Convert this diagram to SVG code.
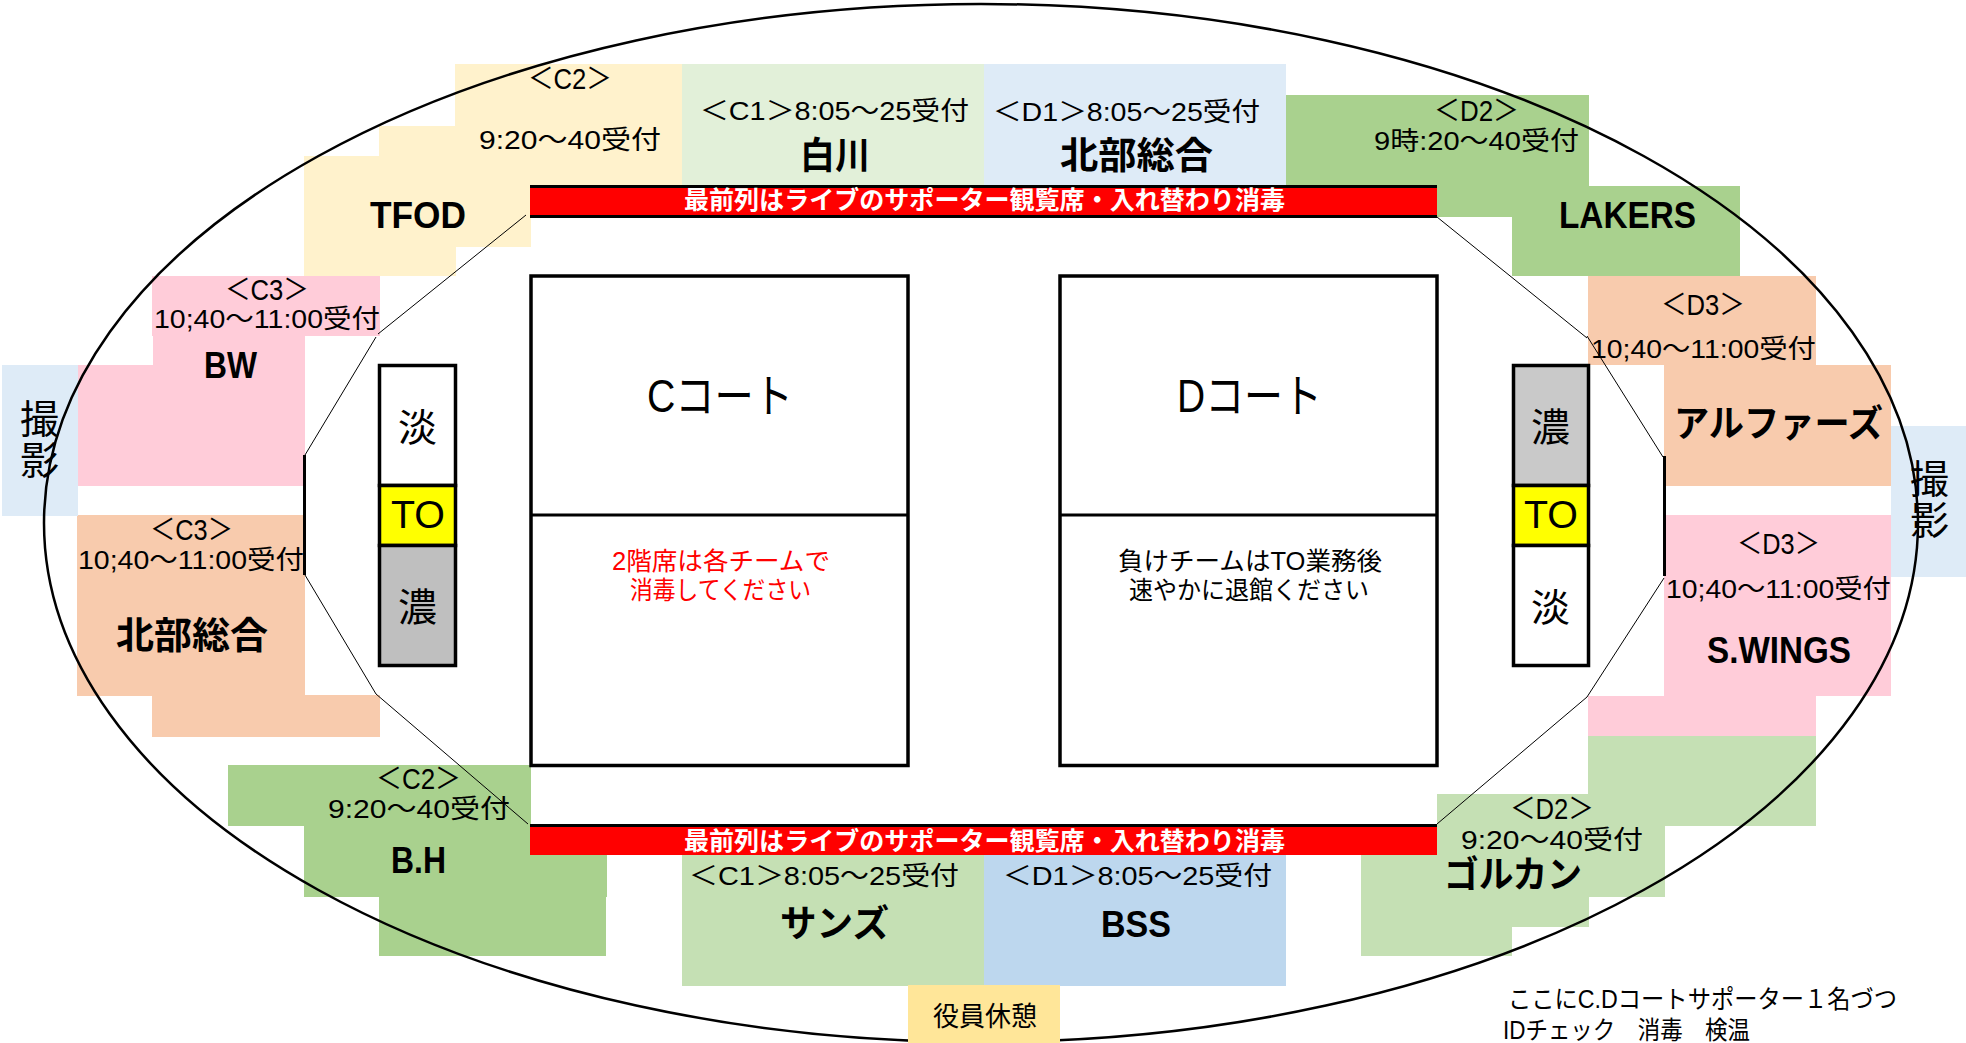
<svg xmlns="http://www.w3.org/2000/svg" width="1966" height="1043" viewBox="0 0 1966 1043">
<style>
text{font-family:"Liberation Sans","Noto Sans CJK JP",sans-serif;fill:#000;font-size:26px}
.a{font-size:29px}
.n{font-size:25px}
.b{font-weight:700;font-size:36px}
.j{font-weight:700;font-size:37px}
.w{font-weight:700;font-size:25px;fill:#fff}
.r{fill:#f00;font-size:25px}
.k{font-size:39px}
.c{font-size:46px}
.o{fill:#fff;stroke:#000;stroke-width:3.5}
.t{fill:none;stroke:#000;stroke-width:1}
.v{fill:none;stroke:#000;stroke-width:3}
.y{fill:#FFF2CC}.p{fill:#FFCCD9}.s{fill:#F8CBAD}.g{fill:#A9D18E}.l{fill:#C5E0B4}.q{fill:#E2F0D9}.u{fill:#DEEBF7}.m{fill:#BDD7EE}
</style>
<rect width="1966" height="1043" fill="#fff"/>
<g id="zone-tfod">
<polygon class="y" points="455,64 682,64 682,185 531,185 531,247 456,247 456,276 304,276 304,156 379,156 379,126 455,126"/>
<text class="a" x="528" y="89" textLength="84" lengthAdjust="spacingAndGlyphs">＜C2＞</text>
<text x="479" y="149" textLength="182" lengthAdjust="spacingAndGlyphs">9:20～40受付</text>
<text class="b" x="370" y="228" textLength="96" lengthAdjust="spacingAndGlyphs">TFOD</text>
</g>
<g id="zone-shirakawa">
<rect class="q" x="682" y="64" width="302" height="121"/>
<text x="700" y="120" textLength="269" lengthAdjust="spacingAndGlyphs">＜C1＞8:05～25受付</text>
<text class="j" x="800" y="169" textLength="70" lengthAdjust="spacingAndGlyphs">白川</text>
</g>
<g id="zone-hokubu-d1">
<rect class="u" x="984" y="64" width="302" height="121"/>
<text x="993" y="121" textLength="267" lengthAdjust="spacingAndGlyphs">＜D1＞8:05～25受付</text>
<text class="j" x="1060" y="169" textLength="153" lengthAdjust="spacingAndGlyphs">北部総合</text>
</g>
<g id="zone-lakers">
<polygon class="g" points="1286,95 1589,95 1589,186 1740,186 1740,276 1512,276 1512,217 1286,217"/>
<text class="a" x="1434" y="121" textLength="85" lengthAdjust="spacingAndGlyphs">＜D2＞</text>
<text x="1374" y="150" textLength="205" lengthAdjust="spacingAndGlyphs">9時:20～40受付</text>
<text class="b" x="1559" y="228" textLength="137" lengthAdjust="spacingAndGlyphs">LAKERS</text>
</g>
<g id="zone-bw">
<polygon class="p" points="152,276 380,276 380,336 305,336 305,486 77,486 77,365 153,365 153,336 152,336"/>
<text class="a" x="225" y="300" textLength="84" lengthAdjust="spacingAndGlyphs">＜C3＞</text>
<text x="154" y="328" textLength="226" lengthAdjust="spacingAndGlyphs">10;40～11:00受付</text>
<text class="b" x="204" y="378" textLength="53" lengthAdjust="spacingAndGlyphs">BW</text>
</g>
<g id="zone-alphas">
<polygon class="s" points="1588,276 1816,276 1816,365 1891,365 1891,486 1664,486 1664,365 1588,365"/>
<text class="a" x="1661" y="315" textLength="84" lengthAdjust="spacingAndGlyphs">＜D3＞</text>
<text x="1591" y="358" textLength="225" lengthAdjust="spacingAndGlyphs">10;40～11:00受付</text>
<text class="j" x="1674" y="437" textLength="209" lengthAdjust="spacingAndGlyphs">アルファーズ</text>
</g>
<g id="zone-hokubu-c3">
<polygon class="s" points="77,515 305,515 305,695 380,695 380,737 152,737 152,696 77,696"/>
<text class="a" x="150" y="540" textLength="83" lengthAdjust="spacingAndGlyphs">＜C3＞</text>
<text x="78" y="569" textLength="226" lengthAdjust="spacingAndGlyphs">10;40～11:00受付</text>
<text class="j" x="116" y="649" textLength="152" lengthAdjust="spacingAndGlyphs">北部総合</text>
</g>
<g id="zone-swings">
<polygon class="p" points="1664,515 1891,515 1891,696 1816,696 1816,736 1588,736 1588,696 1664,696"/>
<text class="a" x="1737" y="554" textLength="83" lengthAdjust="spacingAndGlyphs">＜D3＞</text>
<text x="1666" y="598" textLength="225" lengthAdjust="spacingAndGlyphs">10;40～11:00受付</text>
<text class="b" x="1707" y="663" textLength="144" lengthAdjust="spacingAndGlyphs">S.WINGS</text>
</g>
<g id="zone-bh">
<polygon class="g" points="228,765 531,765 531,855 607,855 607,897 606,897 606,956 379,956 379,897 304,897 304,826 228,826"/>
<text class="a" x="376" y="789" textLength="85" lengthAdjust="spacingAndGlyphs">＜C2＞</text>
<text x="328" y="818" textLength="182" lengthAdjust="spacingAndGlyphs">9:20～40受付</text>
<text class="b" x="391" y="873" textLength="55" lengthAdjust="spacingAndGlyphs">B.H</text>
</g>
<g id="zone-golcan">
<polygon class="l" points="1588,736 1816,736 1816,826 1665,826 1665,897 1589,897 1589,927 1512,927 1512,956 1361,956 1361,855 1437,855 1437,794 1588,794"/>
<text class="a" x="1510" y="819" textLength="84" lengthAdjust="spacingAndGlyphs">＜D2＞</text>
<text x="1461" y="849" textLength="182" lengthAdjust="spacingAndGlyphs">9:20～40受付</text>
<text class="j" x="1444" y="888" textLength="138" lengthAdjust="spacingAndGlyphs">ゴルカン</text>
</g>
<g id="zone-suns">
<rect class="l" x="682" y="855" width="302" height="131"/>
<text x="689" y="885" textLength="270" lengthAdjust="spacingAndGlyphs">＜C1＞8:05～25受付</text>
<text class="j" x="780" y="937" textLength="109" lengthAdjust="spacingAndGlyphs">サンズ</text>
</g>
<g id="zone-bss">
<rect class="m" x="984" y="855" width="302" height="131"/>
<text x="1003" y="885" textLength="269" lengthAdjust="spacingAndGlyphs">＜D1＞8:05～25受付</text>
<text class="b" x="1101" y="937" textLength="70" lengthAdjust="spacingAndGlyphs">BSS</text>
</g>
<g id="photo-left"><rect class="u" x="2" y="365" width="76" height="151"/></g>
<g id="photo-right"><rect class="u" x="1891" y="426" width="75" height="151"/></g>
<g id="connectors">
<ellipse class="v" cx="981" cy="523" rx="937" ry="519" style="stroke-width:2.5"/>
<polyline class="t" points="526,215 378,334"/>
<polyline class="t" points="376,337 305,455"/>
<line class="v" x1="304.5" y1="455" x2="304.5" y2="575"/>
<polyline class="t" points="305,575 376,694 528,824"/>
<polyline class="t" points="1437,217 1587,338"/>
<polyline class="t" points="1587,336 1663,457"/>
<line class="v" x1="1664.5" y1="456" x2="1664.5" y2="576"/>
<polyline class="t" points="1664,578 1587,697 1437,824"/>
</g>
<g id="photo-left-label">
<text class="k" x="20" y="433">撮</text>
<text class="k" x="20" y="474">影</text>
</g>
<g id="photo-right-label">
<text class="k" x="1910" y="493">撮</text>
<text class="k" x="1910" y="534">影</text>
</g>
<g id="bar-top">
<rect x="530" y="185" width="907" height="33" fill="#f00"/>
<rect x="530" y="185" width="907" height="3"/>
<rect x="530" y="215" width="907" height="3"/>
<text class="w" x="684" y="209" textLength="601" lengthAdjust="spacingAndGlyphs">最前列はライブのサポーター観覧席・入れ替わり消毒</text>
</g>
<g id="bar-bottom">
<rect x="530" y="824" width="907" height="31" fill="#f00"/>
<rect x="530" y="824" width="907" height="3"/>
<text class="w" x="684" y="850" textLength="601" lengthAdjust="spacingAndGlyphs">最前列はライブのサポーター観覧席・入れ替わり消毒</text>
</g>
<g id="court-c">
<rect class="o" x="531" y="276" width="377" height="489.5"/>
<line class="v" x1="531" y1="515" x2="908" y2="515"/>
<text class="c" x="647" y="412" textLength="146" lengthAdjust="spacingAndGlyphs">Cコート</text>
<text class="r" x="612" y="570" textLength="218" lengthAdjust="spacingAndGlyphs">2階席は各チームで</text>
<text class="r" x="630" y="599" textLength="181" lengthAdjust="spacingAndGlyphs">消毒してください</text>
</g>
<g id="court-d">
<rect class="o" x="1060" y="276" width="377" height="489.5"/>
<line class="v" x1="1060" y1="515" x2="1437" y2="515"/>
<text class="c" x="1177" y="412" textLength="145" lengthAdjust="spacingAndGlyphs">Dコート</text>
<text class="n" x="1118" y="570" textLength="264" lengthAdjust="spacingAndGlyphs">負けチームはTO業務後</text>
<text class="n" x="1129" y="599" textLength="240" lengthAdjust="spacingAndGlyphs">速やかに退館ください</text>
</g>
<g id="bench-c">
<rect class="o" x="379.5" y="365.5" width="76" height="120"/>
<rect class="o" x="379.5" y="485.5" width="76" height="60" style="fill:#ff0"/>
<rect class="o" x="379.5" y="545.5" width="76" height="120" style="fill:#BFBFBF"/>
<text class="k" x="398" y="441">淡</text>
<text class="k" x="391" y="528" textLength="54" lengthAdjust="spacingAndGlyphs">TO</text>
<text class="k" x="398" y="621">濃</text>
</g>
<g id="bench-d">
<rect class="o" x="1513.5" y="365.5" width="75" height="120" style="fill:#C9C9C9"/>
<rect class="o" x="1513.5" y="485.5" width="75" height="60" style="fill:#ff0"/>
<rect class="o" x="1513.5" y="545.5" width="75" height="120"/>
<text class="k" x="1531" y="441">濃</text>
<text class="k" x="1524" y="528" textLength="54" lengthAdjust="spacingAndGlyphs">TO</text>
<text class="k" x="1531" y="621">淡</text>
</g>
<g id="officials">
<rect x="908" y="985" width="152" height="58" fill="#FFE699"/>
<text x="933" y="1026" textLength="104" lengthAdjust="spacingAndGlyphs" style="font-size:27px">役員休憩</text>
</g>
<g id="note">
<text class="n" x="1508" y="1008" textLength="389" lengthAdjust="spacingAndGlyphs">ここにC.Dコートサポーター１名づつ</text>
<text class="n" x="1503" y="1039" textLength="247" lengthAdjust="spacingAndGlyphs" xml:space="preserve">IDチェック　消毒　検温</text>
</g>
</svg>
